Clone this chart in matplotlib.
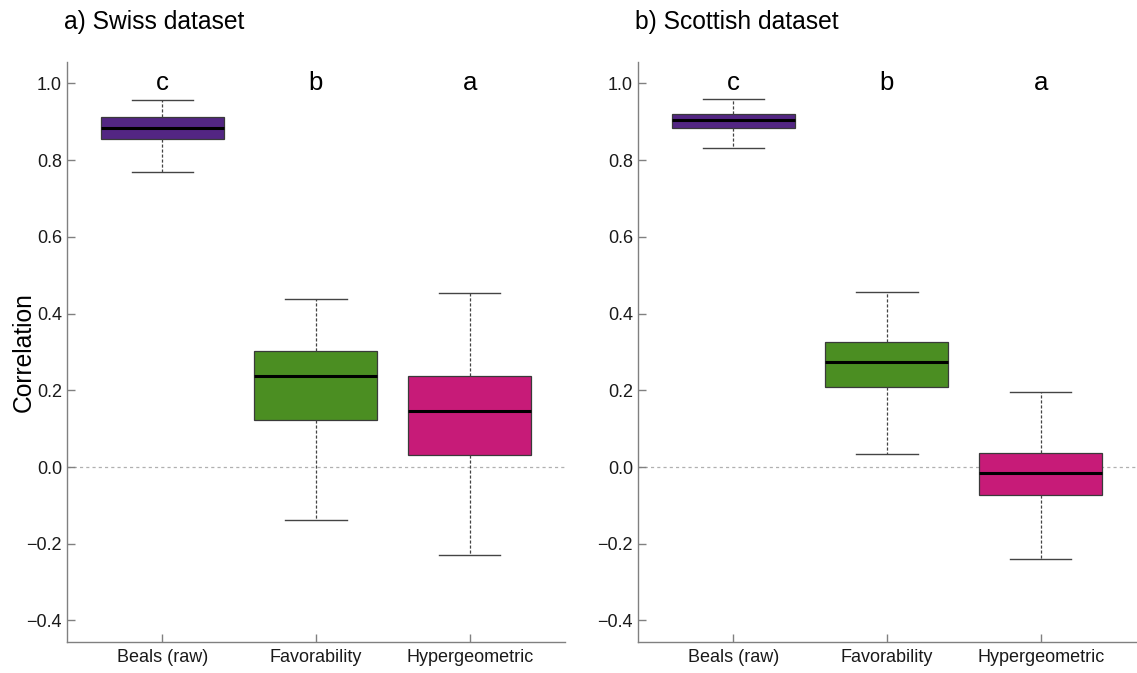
import matplotlib
matplotlib.use("Agg")
import matplotlib.pyplot as plt

plt.rcParams["font.family"] = ["Liberation Sans", "DejaVu Sans"]

methods = ["Beals (raw)", "Favorability", "Hypergeometric"]
colors = ["#532683", "#4b8e22", "#c71b78"]
letters = ["c", "b", "a"]

# five-number summaries per method: lower whisker, Q1, median, Q3, upper whisker
swiss_lo = [0.769, -0.138, -0.229]
swiss_q1 = [0.855, 0.123, 0.031]
swiss_med = [0.884, 0.237, 0.146]
swiss_q3 = [0.913, 0.302, 0.237]
swiss_hi = [0.957, 0.438, 0.454]

scot_lo = [0.832, 0.034, -0.240]
scot_q1 = [0.884, 0.209, -0.073]
scot_med = [0.905, 0.274, -0.016]
scot_q3 = [0.920, 0.326, 0.037]
scot_hi = [0.960, 0.456, 0.196]

panels = [
    ("a) Swiss dataset", swiss_lo, swiss_q1, swiss_med, swiss_q3, swiss_hi),
    ("b) Scottish dataset", scot_lo, scot_q1, scot_med, scot_q3, scot_hi),
]

fig = plt.figure(figsize=(11.37, 6.73), dpi=100)
axes = [fig.add_axes([0.0589, 0.0461, 0.438, 0.8618]),
        fig.add_axes([0.5611, 0.0461, 0.438, 0.8618])]

for ax, (title, lo, q1, med, q3, hi) in zip(axes, panels):
    stats = [dict(whislo=lo[i], q1=q1[i], med=med[i], q3=q3[i], whishi=hi[i],
                  fliers=[], label=methods[i]) for i in range(3)]
    bp = ax.bxp(stats, positions=[1, 2, 3], widths=0.8, patch_artist=True,
                showfliers=False,
                boxprops=dict(edgecolor="#3a3a3a", linewidth=0.9),
                medianprops=dict(color="black", linewidth=2.2),
                whiskerprops=dict(color="#444444", linewidth=0.9,
                                  linestyle=(0, (2.5, 1.5))),
                capprops=dict(color="#444444", linewidth=1.0),
                capwidths=0.4)
    for patch, c in zip(bp["boxes"], colors):
        patch.set_facecolor(c)

    ax.axhline(0, color="#b0b0b0", lw=0.9, ls=(0, (2.5, 2.5)), zorder=0)

    for x, t in zip([1, 2, 3], letters):
        ax.text(x, 1.0, t, ha="center", va="center", fontsize=18.5)

    ax.set_xlim(0.38, 3.62)
    ax.set_ylim(-0.456, 1.056)
    ax.set_yticks([-0.4, -0.2, 0.0, 0.2, 0.4, 0.6, 0.8, 1.0])
    ax.set_yticklabels(["\u22120.4", "\u22120.2", "0.0", "0.2", "0.4", "0.6",
                        "0.8", "1.0"])
    ax.set_xticks([1, 2, 3])
    ax.set_xticklabels(methods)
    for s in ("top", "right"):
        ax.spines[s].set_visible(False)
    for s in ("left", "bottom"):
        ax.spines[s].set_color("#808080")
        ax.spines[s].set_linewidth(1.0)
    ax.tick_params(axis="both", direction="in", colors="#808080",
                   labelcolor="#1a1a1a", labelsize=13, length=6, width=1.0)
    ax.tick_params(axis="y", pad=3.5)
    ax.tick_params(axis="x", pad=5)
    ax.set_title(title, loc="left", fontsize=17.7, x=-0.005, pad=24)

# y label sits in the narrow left margin, so place it in figure coordinates
fig.text(24 / 1137, 1 - 352 / 673, "Correlation", rotation=90,
         ha="center", va="center", fontsize=17.7)

fig.savefig("out.png", dpi=100)
